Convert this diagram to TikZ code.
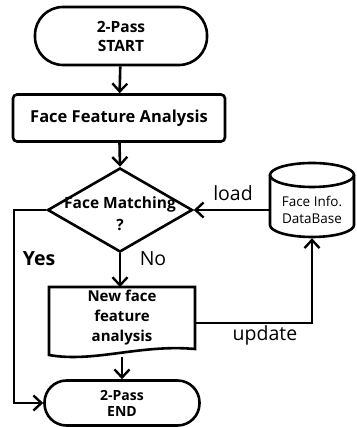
\documentclass[tikz,border=0pt]{standalone}
\usepackage{fontspec}
\setmainfont{Open Sans}
\usetikzlibrary{arrows.meta,shapes.geometric}
\tikzset{
  x=1pt,y=1pt,
  every path/.style={line width=2.6pt},
  lbl/.style={font=\bfseries, align=center, inner sep=0pt},
  term/.style={lbl, draw, rectangle},
  proc/.style={lbl, draw, rectangle, rounded corners=4pt},
  dec/.style={lbl, draw, diamond, minimum width=145pt, minimum height=84pt, inner sep=0pt},
  plain/.style={font=\fontsize{19.5}{22}\selectfont, inner sep=0pt},
  conn/.style={-{Straight Barb[length=8pt,width=15pt,line width=2.4pt]}, line join=miter},
}
\begin{document}
\begin{tikzpicture}
\useasboundingbox (0,0) rectangle (356,427);
\node[term, minimum width=172pt, minimum height=58pt, rounded corners=28pt, font=\fontsize{15.5}{19}\selectfont\bfseries] (start) at (121,391) {2-Pass\\START};
\node[proc, minimum width=212pt, minimum height=47pt, font=\fontsize{16.5}{19}\selectfont\bfseries] (ffa) at (119,309) {Face Feature Analysis};
\node[dec, font=\fontsize{15.5}{20}\selectfont\bfseries] (dec) at (120,217) {\makebox[0pt]{\smash{\raisebox{-9pt}{\begin{tabular}{@{}c@{}}Face Matching\\[2pt]?\end{tabular}}}}};
% New face feature analysis (document shape)
\coordinate (nfTL) at (49,140);
\coordinate (nfTR) at (195,140);
\coordinate (nfBL) at (49,72);
\coordinate (nfBR) at (195,78);
\draw (nfTL) -- (nfBL) .. controls +(45,-8) and +(-55,5) .. (nfBR) -- (nfTR) -- cycle;
\node[lbl, font=\fontsize{15}{20}\selectfont\bfseries] (nf) at (122,109) {New face\\feature\\analysis};
\node[term, minimum width=155pt, minimum height=45pt, rounded corners=22pt, font=\fontsize{14}{16}\selectfont\bfseries] (end) at (122,24) {2-Pass\\END};
% database cylinder
\node[inner sep=0pt, minimum width=84pt, minimum height=54pt, align=center, font=\fontsize{13.5}{17}\selectfont] (db) at (312,217) {Face Info.\\DataBase};
\draw (270,252) -- (270,202) arc[start angle=180, end angle=360, x radius=42, y radius=12] -- (354,252);
\draw (312,252) ellipse[x radius=42, y radius=12];
% connectors
\draw[conn] (start) -- (ffa);
\draw[conn] (ffa) -- (dec.north);
\draw[conn] (dec.south) -- (dec.south |- nfTL);
\draw[conn] (end.north |- 0,70) -- (end.north);
\draw[conn] (db.west) -- (dec.east);
\draw[conn] (dec.west) -- (14,217) -- (14,24) -- (end.west);
\coordinate (upd) at (312,104);
\draw[conn] (nfTR |- upd) -- (upd) -- (db.south);
\node[plain] (load) at (233,234) {load};
\node[plain] (no) at (153,168) {No};
\node[plain, font=\fontsize{19.5}{22}\selectfont\bfseries] (yes) at (39,168) {Yes};
\node[plain] (update) at (265,92) {update};
\end{tikzpicture}
\end{document}
